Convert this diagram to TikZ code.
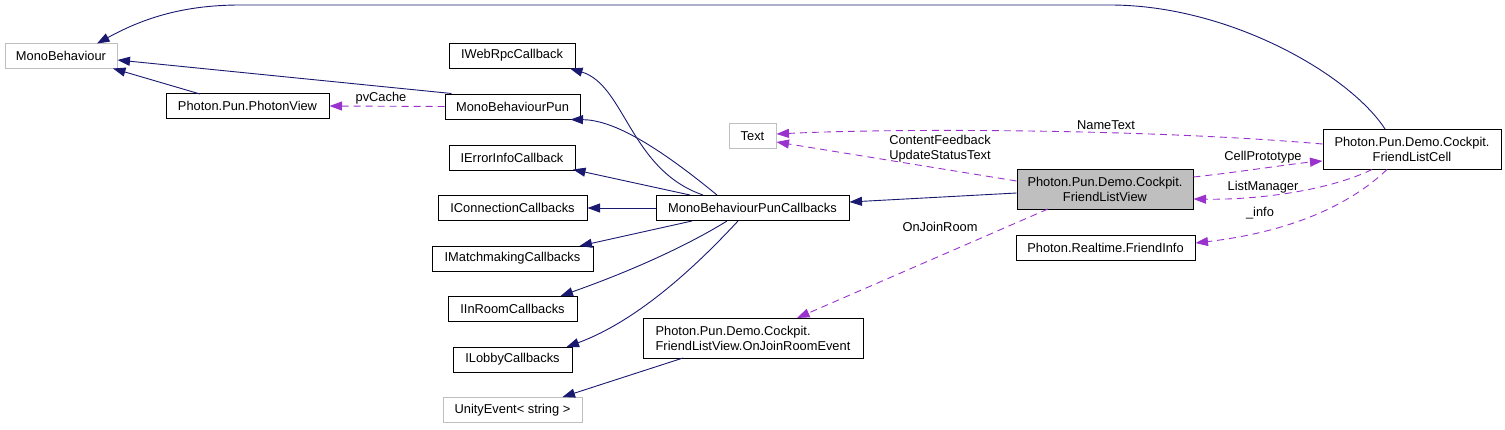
\documentclass[tikz,border=0pt]{standalone}
\usepackage{fontspec}
\setmainfont{Liberation Sans}
\usetikzlibrary{arrows.meta}
\definecolor{edgeblue}{HTML}{191970}
\definecolor{edgepurple}{HTML}{9A32CD}
\definecolor{boxgray}{HTML}{BFBFBF}
\begin{document}
\begin{tikzpicture}[x=1pt,y=-1pt,
 box/.style={draw=black,line width=1pt,fill=white,inner sep=0pt,minimum height=25pt,align=center,font=\fontsize{12.85}{15}\selectfont},
 graybox/.style={box,draw=boxgray},
 inh/.style={draw=edgeblue,line width=0.9pt,-{Triangle[length=12.5pt,width=9pt]}},
 use/.style={draw=edgepurple,line width=0.9pt,dash pattern=on 7pt off 5pt,-{Triangle[length=12.5pt,width=9pt]}},
 lbl/.style={inner sep=0pt,align=center,font=\fontsize{12.85}{15}\selectfont}]
\useasboundingbox (0,0) rectangle (1505,429);
% nodes
\node[graybox,minimum width=112pt] (mono) at (61,55.5) {MonoBehaviour};
\node[box,minimum width=163pt] (pview) at (247.5,106) {Photon.Pun.PhotonView};
\node[box,minimum width=126pt] (iweb) at (512,55.5) {IWebRpcCallback};
\node[box,minimum width=135pt] (mbp) at (512.5,106.5) {MonoBehaviourPun};
\node[box,minimum width=126pt] (ierr) at (512,157.5) {IErrorInfoCallback};
\node[box,minimum width=149pt] (iconn) at (512.5,208) {IConnectionCallbacks};
\node[box,minimum width=193pt] (mbpc) at (752.5,208) {MonoBehaviourPunCallbacks};
\node[box,minimum width=161pt] (imatch) at (512.5,258.5) {IMatchmakingCallbacks};
\node[box,minimum width=129pt] (iinroom) at (512.5,309) {IInRoomCallbacks};
\node[box,minimum width=119pt] (ilobby) at (512.5,359.5) {ILobbyCallbacks};
\node[box,minimum width=220pt,minimum height=40pt,align=left] (ojre) at (753,338) {Photon.Pun.Demo.Cockpit.\\FriendListView.OnJoinRoomEvent};
\node[graybox,minimum width=139pt] (unity) at (512.5,410) {UnityEvent< string >};
\node[graybox,minimum width=47pt] (text) at (752.5,136) {Text};
\node[box,fill=boxgray,minimum width=176pt,minimum height=40pt] (flv) at (1105,189) {Photon.Pun.Demo.Cockpit.\\FriendListView};
\node[box,minimum width=179pt] (finfo) at (1105.5,248) {Photon.Realtime.FriendInfo};
\node[box,minimum width=178pt,minimum height=40pt] (flc) at (1412,149) {Photon.Pun.Demo.Cockpit.\\FriendListCell};
% inheritance edges
\draw[inh] ([shift={(-27,-20)}]flc.center) .. controls (1350,75) and (1230,5) .. (1110,5) -- (240,5) .. controls (180,5) and (140,20) .. ([shift={(36,-12)}]mono.center);
\draw[inh] ([xshift=7pt]mbp.north west) -- ([shift={(0,4.5)}]mono.east);
\draw[inh] ([shift={(-47.5,-12)}]pview.center) -- ([shift={(52,13)}]mono.center);
\draw[inh] ([shift={(-49.5,-13)}]mbpc.center) .. controls (630,170) and (625,85) .. ([shift={(58,13)}]iweb.center);
\draw[inh] ([shift={(-35.5,-13)}]mbpc.center) .. controls (650,140) and (610,120) .. ([shift={(58,13)}]mbp.center);
\draw[inh] ([shift={(-62.5,-13)}]mbpc.center) -- ([shift={(61,12)}]ierr.center);
\draw[inh] (mbpc.west) -- (iconn.east);
\draw[inh] ([shift={(-60.5,13)}]mbpc.center) -- ([shift={(67,-12.5)}]imatch.center);
\draw[inh] ([shift={(-25.5,13)}]mbpc.center) .. controls (680,250) and (620,275) .. ([shift={(48,-13)}]iinroom.center);
\draw[inh] ([shift={(-14.5,13)}]mbpc.center) .. controls (700,262) and (640,320) .. ([shift={(54,-12.5)}]ilobby.center);
\draw[inh] ([shift={(-70,20)}]ojre.center) -- ([shift={(50,-13)}]unity.center);
\draw[inh] ([shift={(0,4)}]flv.west) -- ([shift={(0,-6)}]mbpc.east);
% usage edges
\draw[use] (mbp.west) -- (pview.east);
\node[lbl] (lpv) at (381,98) {pvCache};
\draw[use] ([shift={(-57,20)}]flv.center) -- ([shift={(44,-20)}]ojre.center);
\node[lbl] (ljoin) at (940,227) {OnJoinRoom};
\draw[use] ([shift={(0,-8)}]flv.west) -- ([shift={(0,6)}]text.east);
\node[lbl] (lcf) at (940,148.5) {ContentFeedback\\UpdateStatusText};
\draw[use] ([shift={(0,-5)}]flc.west) .. controls (1150,129) and (900,128) .. ([shift={(0,-2)}]text.east);
\node[lbl] (lname) at (1106,125) {NameText};
\draw[use] ([shift={(0,-12)}]flv.east) .. controls (1240,172) and (1290,164) .. ([shift={(0,12)}]flc.west);
\node[lbl] (lcell) at (1263,157) {CellPrototype};
\draw[use] ([shift={(-40,0)}]flc.south) .. controls (1330,190) and (1260,200) .. ([shift={(0,10)}]flv.east);
\node[lbl] (llist) at (1263,187) {ListManager};
\draw[use] ([shift={(-25,0)}]flc.south) .. controls (1350,205) and (1290,232) .. ([shift={(0,-5)}]finfo.east);
\node[lbl] (linfo) at (1260,213) {\_info};
\end{tikzpicture}
\end{document}
